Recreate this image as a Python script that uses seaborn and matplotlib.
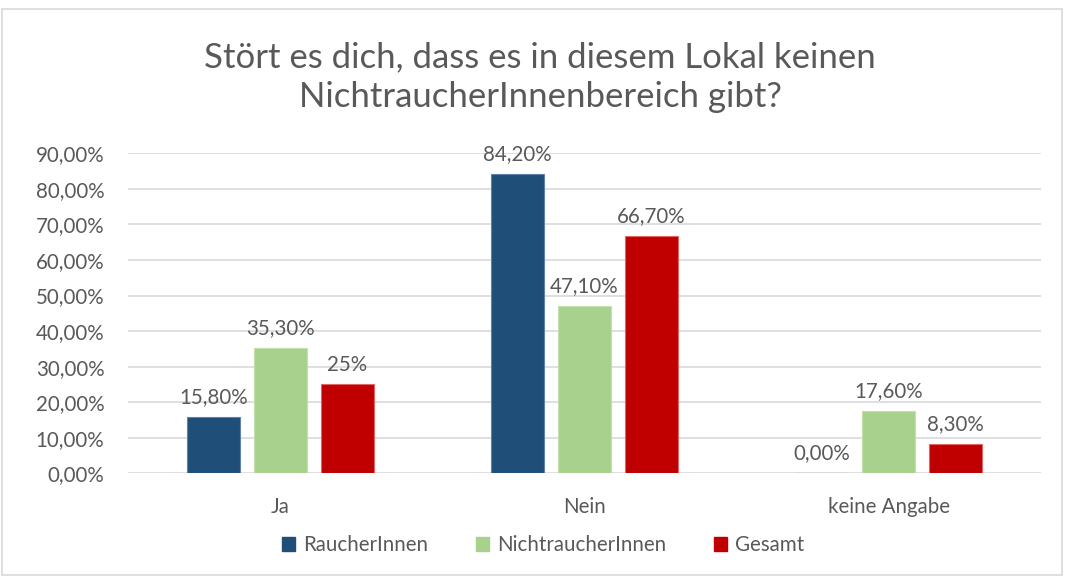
import matplotlib
matplotlib.use("Agg")
import matplotlib.pyplot as plt
from matplotlib.patches import Rectangle
import seaborn as sns
import pandas as pd

# Survey answers per group (percent)
categories = ["Ja", "Nein", "keine Angabe"]
groups = ["RaucherInnen", "NichtraucherInnen", "Gesamt"]
raucher = [15.8, 84.2, 0.0]
nichtraucher = [35.3, 47.1, 17.6]
gesamt = [25.0, 66.7, 8.3]
y_ticks = [0, 10, 20, 30, 40, 50, 60, 70, 80, 90]
title = "Stört es dich, dass es in diesem Lokal keinen\nNichtraucherInnenbereich gibt?"

colors = ["#1F4E79", "#A9D18E", "#C00000"]
edge_colors = ["#5F83A8", "#C3E0AE", "#E06666"]
text_color = "#595959"
font = ["Lato", "DejaVu Sans"]
fs = 14.8


def fmt(v):
    # whole numbers are written without decimals, except zero
    if v != 0 and float(v).is_integer():
        return f"{int(v)}%"
    return f"{v:.2f}".replace(".", ",") + "%"


rows = []
for g, vals in zip(groups, [raucher, nichtraucher, gesamt]):
    for c, v in zip(categories, vals):
        rows.append({"Antwort": c, "Gruppe": g, "Wert": v})
df = pd.DataFrame(rows)

sns.set_theme(style="white")
plt.rcParams["font.family"] = font

fig = plt.figure(figsize=(10.65, 5.76), dpi=100)
ax = fig.add_axes([128 / 1065, 1 - 473.3 / 576, (1041 - 128) / 1065, (473.3 - 153.3) / 576])

sns.barplot(data=df, x="Antwort", y="Wert", hue="Gruppe", order=categories,
            hue_order=groups, palette=colors, width=0.66, gap=0.21,
            saturation=1, ax=ax, zorder=3)

for container, ec in zip(ax.containers, edge_colors):
    for bar in container:
        bar.set_edgecolor(ec)
        bar.set_linewidth(0.8)
    ax.bar_label(container, labels=[fmt(b.get_height()) for b in container],
                 padding=7, fontsize=fs, color=text_color)

ax.set_ylim(0, 90)
ax.set_xlim(-0.5, 2.5)
ax.set_yticks(y_ticks)
ax.set_yticklabels([f"{t:.2f}".replace(".", ",") + "%" for t in y_ticks])
ax.yaxis.grid(True, color="#D9D9D9", linewidth=1.2, zorder=0)
ax.set_axisbelow(True)
for s in ax.spines.values():
    s.set_visible(False)
ax.tick_params(axis="y", length=0, pad=17, labelsize=fs, labelcolor=text_color)
ax.tick_params(axis="x", length=0, pad=17, labelsize=fs, labelcolor=text_color)
ax.set_xlabel("")
ax.set_ylabel("")

ax.legend_.remove()
handles = [Rectangle((0, 0), 1, 1, color=c) for c in colors]
fig.legend(handles, groups, loc="center", bbox_to_anchor=(543 / 1065, 1 - 545 / 576),
           ncol=3, frameon=False, fontsize=fs, labelcolor=text_color,
           handlelength=0.65, handleheight=0.65, handletextpad=0.4, columnspacing=2.3)

fig.text(540 / 1065, 1 - 77 / 576, title, ha="center", va="center",
         fontsize=25, color=text_color, linespacing=1.3)

# outer chart border
fig.patches.append(Rectangle((2 / 1065, 1 / 576), 1060 / 1065, 1 - 10 / 576,
                             transform=fig.transFigure, fill=False,
                             edgecolor="#D9D9D9", linewidth=1.2))

fig.savefig("out.png", dpi=100)
